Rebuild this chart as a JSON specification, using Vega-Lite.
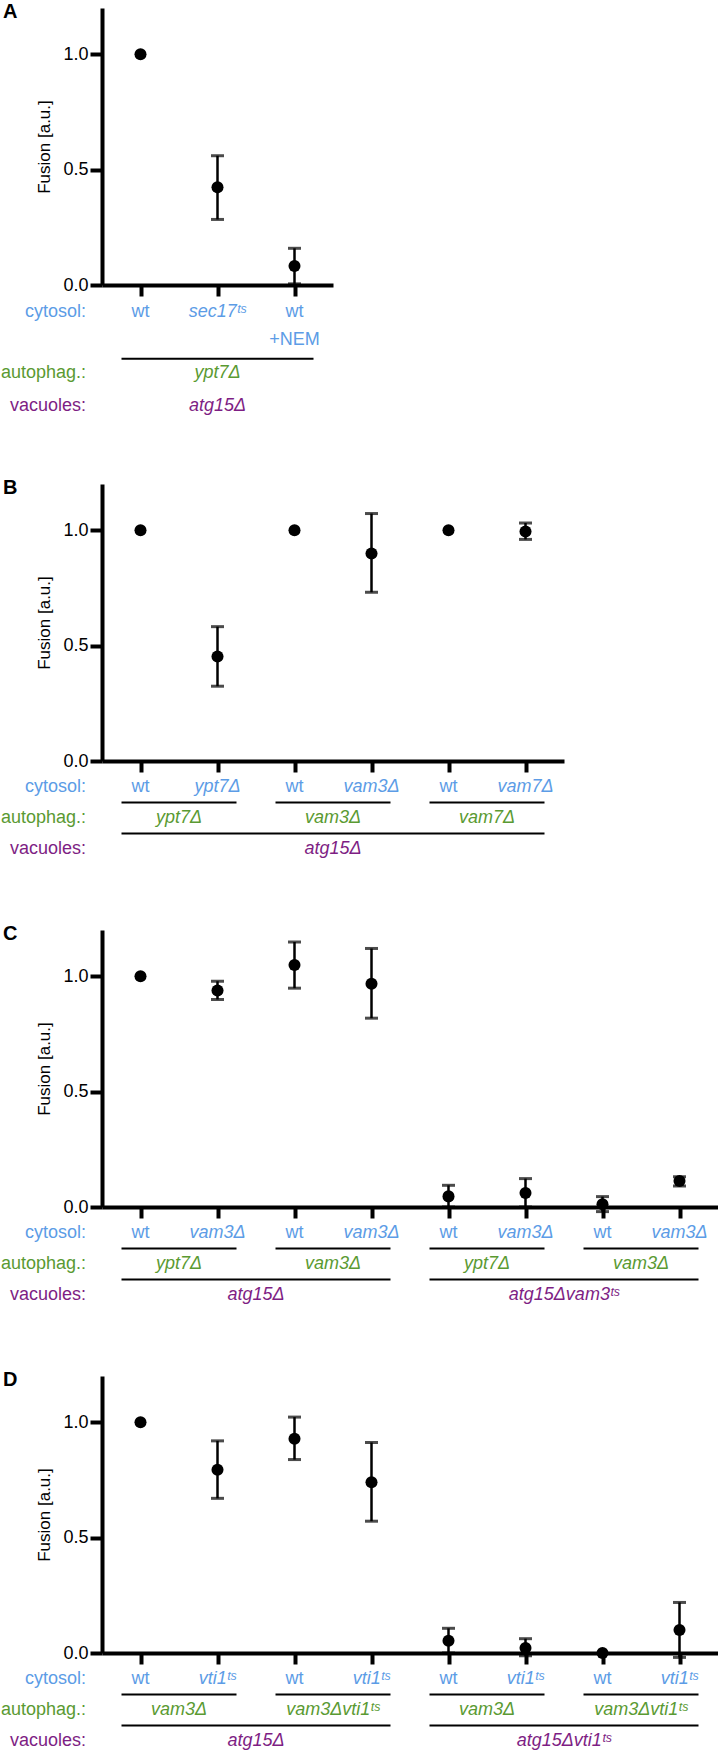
{
  "$schema": "https://vega.github.io/schema/vega-lite/v6.json",
  "padding": {"left": 0, "top": 2, "right": 0, "bottom": 0},
  "background": "white",
  "spacing": 63,
  "config": {
    "view": {"stroke": null},
    "axis": {"domainColor": "black", "domainWidth": 4, "tickColor": "black", "tickWidth": 4, "grid": false,
      "labelFont": "Liberation Sans", "labelFontSize": 18, "labelColor": "black", "labelPadding": 2,
      "titleFont": "Liberation Sans", "titleFontSize": 17, "titleFontWeight": "normal", "titleColor": "black", "titlePadding": 9},
    "text": {"font": "Liberation Sans", "fontSize": 18}
  },
  "datasets": {
    "pts": [
      {"p": "A", "pos": 1, "mean": 1.0, "lo": null, "hi": null},
      {"p": "A", "pos": 2, "mean": 0.423, "lo": 0.284, "hi": 0.56},
      {"p": "A", "pos": 3, "mean": 0.082, "lo": 0.005, "hi": 0.159},
      {"p": "B", "pos": 1, "mean": 1.0, "lo": null, "hi": null},
      {"p": "B", "pos": 2, "mean": 0.453, "lo": 0.324, "hi": 0.582},
      {"p": "B", "pos": 3, "mean": 1.0, "lo": null, "hi": null},
      {"p": "B", "pos": 4, "mean": 0.899, "lo": 0.731, "hi": 1.072},
      {"p": "B", "pos": 5, "mean": 1.0, "lo": null, "hi": null},
      {"p": "B", "pos": 6, "mean": 0.994, "lo": 0.96, "hi": 1.031},
      {"p": "C", "pos": 1, "mean": 1.0, "lo": null, "hi": null},
      {"p": "C", "pos": 2, "mean": 0.938, "lo": 0.899, "hi": 0.978},
      {"p": "C", "pos": 3, "mean": 1.048, "lo": 0.948, "hi": 1.148},
      {"p": "C", "pos": 4, "mean": 0.967, "lo": 0.818, "hi": 1.12},
      {"p": "C", "pos": 5, "mean": 0.046, "lo": 0.0, "hi": 0.094},
      {"p": "C", "pos": 6, "mean": 0.061, "lo": 0.0, "hi": 0.123},
      {"p": "C", "pos": 7, "mean": 0.012, "lo": -0.02, "hi": 0.045},
      {"p": "C", "pos": 8, "mean": 0.113, "lo": 0.091, "hi": 0.131},
      {"p": "D", "pos": 1, "mean": 1.0, "lo": null, "hi": null},
      {"p": "D", "pos": 2, "mean": 0.794, "lo": 0.67, "hi": 0.919},
      {"p": "D", "pos": 3, "mean": 0.928, "lo": 0.838, "hi": 1.022},
      {"p": "D", "pos": 4, "mean": 0.74, "lo": 0.571, "hi": 0.912},
      {"p": "D", "pos": 5, "mean": 0.053, "lo": 0.0, "hi": 0.107},
      {"p": "D", "pos": 6, "mean": 0.022, "lo": -0.012, "hi": 0.062},
      {"p": "D", "pos": 7, "mean": 0.0, "lo": null, "hi": null},
      {"p": "D", "pos": 8, "mean": 0.1, "lo": -0.019, "hi": 0.219}
    ],
    "labs": [
      {"p": "A", "row": "cytosol", "pos": 1, "text": "wt"},
      {"p": "A", "row": "cytosol", "pos": 2, "text": "sec17ᵗˢ"},
      {"p": "A", "row": "cytosol", "pos": 3, "text": "wt"},
      {"p": "A", "row": "nem", "pos": 3, "text": "+NEM"},
      {"p": "A", "row": "autophag", "pos": 2, "text": "ypt7Δ"},
      {"p": "A", "row": "vacuoles", "pos": 2, "text": "atg15Δ"},
      {"p": "B", "row": "cytosol", "pos": 1, "text": "wt"},
      {"p": "B", "row": "cytosol", "pos": 2, "text": "ypt7Δ"},
      {"p": "B", "row": "cytosol", "pos": 3, "text": "wt"},
      {"p": "B", "row": "cytosol", "pos": 4, "text": "vam3Δ"},
      {"p": "B", "row": "cytosol", "pos": 5, "text": "wt"},
      {"p": "B", "row": "cytosol", "pos": 6, "text": "vam7Δ"},
      {"p": "B", "row": "autophag", "pos": 1.5, "text": "ypt7Δ"},
      {"p": "B", "row": "autophag", "pos": 3.5, "text": "vam3Δ"},
      {"p": "B", "row": "autophag", "pos": 5.5, "text": "vam7Δ"},
      {"p": "B", "row": "vacuoles", "pos": 3.5, "text": "atg15Δ"},
      {"p": "C", "row": "cytosol", "pos": 1, "text": "wt"},
      {"p": "C", "row": "cytosol", "pos": 2, "text": "vam3Δ"},
      {"p": "C", "row": "cytosol", "pos": 3, "text": "wt"},
      {"p": "C", "row": "cytosol", "pos": 4, "text": "vam3Δ"},
      {"p": "C", "row": "cytosol", "pos": 5, "text": "wt"},
      {"p": "C", "row": "cytosol", "pos": 6, "text": "vam3Δ"},
      {"p": "C", "row": "cytosol", "pos": 7, "text": "wt"},
      {"p": "C", "row": "cytosol", "pos": 8, "text": "vam3Δ"},
      {"p": "C", "row": "autophag", "pos": 1.5, "text": "ypt7Δ"},
      {"p": "C", "row": "autophag", "pos": 3.5, "text": "vam3Δ"},
      {"p": "C", "row": "autophag", "pos": 5.5, "text": "ypt7Δ"},
      {"p": "C", "row": "autophag", "pos": 7.5, "text": "vam3Δ"},
      {"p": "C", "row": "vacuoles", "pos": 2.5, "text": "atg15Δ"},
      {"p": "C", "row": "vacuoles", "pos": 6.5, "text": "atg15Δvam3ᵗˢ"},
      {"p": "D", "row": "cytosol", "pos": 1, "text": "wt"},
      {"p": "D", "row": "cytosol", "pos": 2, "text": "vti1ᵗˢ"},
      {"p": "D", "row": "cytosol", "pos": 3, "text": "wt"},
      {"p": "D", "row": "cytosol", "pos": 4, "text": "vti1ᵗˢ"},
      {"p": "D", "row": "cytosol", "pos": 5, "text": "wt"},
      {"p": "D", "row": "cytosol", "pos": 6, "text": "vti1ᵗˢ"},
      {"p": "D", "row": "cytosol", "pos": 7, "text": "wt"},
      {"p": "D", "row": "cytosol", "pos": 8, "text": "vti1ᵗˢ"},
      {"p": "D", "row": "autophag", "pos": 1.5, "text": "vam3Δ"},
      {"p": "D", "row": "autophag", "pos": 3.5, "text": "vam3Δvti1ᵗˢ"},
      {"p": "D", "row": "autophag", "pos": 5.5, "text": "vam3Δ"},
      {"p": "D", "row": "autophag", "pos": 7.5, "text": "vam3Δvti1ᵗˢ"},
      {"p": "D", "row": "vacuoles", "pos": 2.5, "text": "atg15Δ"},
      {"p": "D", "row": "vacuoles", "pos": 6.5, "text": "atg15Δvti1ᵗˢ"}
    ],
    "spans": [
      {"p": "A", "row": "line1", "from": 1, "to": 3},
      {"p": "B", "row": "line1", "from": 1, "to": 2},
      {"p": "B", "row": "line1", "from": 3, "to": 4},
      {"p": "B", "row": "line1", "from": 5, "to": 6},
      {"p": "B", "row": "line2", "from": 1, "to": 6},
      {"p": "C", "row": "line1", "from": 1, "to": 2},
      {"p": "C", "row": "line1", "from": 3, "to": 4},
      {"p": "C", "row": "line1", "from": 5, "to": 6},
      {"p": "C", "row": "line1", "from": 7, "to": 8},
      {"p": "C", "row": "line2", "from": 1, "to": 4},
      {"p": "C", "row": "line2", "from": 5, "to": 8},
      {"p": "D", "row": "line1", "from": 1, "to": 2},
      {"p": "D", "row": "line1", "from": 3, "to": 4},
      {"p": "D", "row": "line1", "from": 5, "to": 6},
      {"p": "D", "row": "line1", "from": 7, "to": 8},
      {"p": "D", "row": "line2", "from": 1, "to": 4},
      {"p": "D", "row": "line2", "from": 5, "to": 8}
    ],
    "heads": [
      {"row": "cytosol", "text": "cytosol:"},
      {"row": "autophag", "text": "autophag.:"},
      {"row": "vacuoles", "text": "vacuoles:"}
    ]
  },
  "vconcat": [
    {
      "width": 231, "height": 277,
      "resolve": {"scale": {"y": "independent"}, "axis": {"y": "independent"}},
      "layer": [
        {"data": {"name": "pts"}, "transform": [{"filter": "datum.p == 'A' && datum.hi != null"}],
         "mark": {"type": "rule", "strokeWidth": 2.5, "color": "black"},
         "encoding": {"x": {"field": "pos", "type": "quantitative", "scale": {"domain": [0.5, 3.5], "nice": false, "zero": false}, "axis": {"values": [1, 2, 3], "labels": false, "title": null, "tickSize": 11}},
           "y": {"field": "lo", "type": "quantitative", "scale": {"domain": [0, 1.2], "nice": false, "zero": false}, "axis": null}, "y2": {"field": "hi"}}},
        {"data": {"name": "pts"}, "transform": [{"filter": "datum.p == 'A' && datum.hi != null"}],
         "mark": {"type": "tick", "orient": "horizontal", "size": 13, "thickness": 3, "color": "black"},
         "encoding": {"x": {"field": "pos", "type": "quantitative", "scale": {"domain": [0.5, 3.5], "nice": false, "zero": false}, "axis": {"values": [1, 2, 3], "labels": false, "title": null, "tickSize": 11}},
           "y": {"field": "hi", "type": "quantitative", "scale": {"domain": [0, 1.2], "nice": false, "zero": false}, "axis": null}}},
        {"data": {"name": "pts"}, "transform": [{"filter": "datum.p == 'A' && datum.hi != null"}],
         "mark": {"type": "tick", "orient": "horizontal", "size": 13, "thickness": 3, "color": "black"},
         "encoding": {"x": {"field": "pos", "type": "quantitative", "scale": {"domain": [0.5, 3.5], "nice": false, "zero": false}, "axis": {"values": [1, 2, 3], "labels": false, "title": null, "tickSize": 11}},
           "y": {"field": "lo", "type": "quantitative", "scale": {"domain": [0, 1.2], "nice": false, "zero": false}, "axis": null}}},
        {"data": {"name": "pts"}, "transform": [{"filter": "datum.p == 'A'"}],
         "mark": {"type": "circle", "size": 145, "opacity": 1, "color": "black"},
         "encoding": {"x": {"field": "pos", "type": "quantitative", "scale": {"domain": [0.5, 3.5], "nice": false, "zero": false}, "axis": {"values": [1, 2, 3], "labels": false, "title": null, "tickSize": 11}},
           "y": {"field": "mean", "type": "quantitative", "scale": {"domain": [0, 1.2], "nice": false, "zero": false}, "axis": {"orient": "left", "values": [0, 0.5, 1], "format": ".1f", "title": "Fusion [a.u.]", "tickSize": 12}}}},
        {"data": {"values": [{"letter": "A"}]},
         "mark": {"type": "text", "dx": -99, "dy": -6, "align": "left", "baseline": "top", "fontWeight": "bold", "fontSize": 20},
         "encoding": {"x": {"datum": 0.5, "type": "quantitative", "scale": {"domain": [0.5, 3.5], "nice": false, "zero": false}, "axis": {"values": [1, 2, 3], "labels": false, "title": null, "tickSize": 11}},
           "y": {"datum": 1.2, "type": "quantitative", "scale": {"domain": [0, 1.2], "nice": false, "zero": false}, "axis": null},
           "text": {"field": "letter"}}},
        {"data": {"name": "spans"}, "transform": [{"filter": "datum.p == 'A'"}],
         "mark": {"type": "rule", "strokeWidth": 2, "color": "black", "xOffset": -19, "x2Offset": 19},
         "encoding": {"x": {"field": "from", "type": "quantitative", "scale": {"domain": [0.5, 3.5], "nice": false, "zero": false}, "axis": {"values": [1, 2, 3], "labels": false, "title": null, "tickSize": 11}},
           "x2": {"field": "to"},
           "y": {"field": "row", "type": "ordinal", "scale": {"type": "point", "padding": 0, "domain": ["cytosol", "a1", "a2", "a3", "a4", "a5", "nem", "b1", "b2", "b3", "line1", "c1", "c2", "autophag", "d1", "d2", "d3", "d4", "d5", "d6", "vacuoles"], "range": [303.7, 397.7]}, "axis": null}}},
        {"data": {"name": "labs"}, "transform": [{"filter": "datum.p == 'A' && (datum.text == 'wt' || datum.text == '+NEM')"}],
         "mark": {"type": "text", "baseline": "middle"},
         "encoding": {"x": {"field": "pos", "type": "quantitative", "scale": {"domain": [0.5, 3.5], "nice": false, "zero": false}, "axis": {"values": [1, 2, 3], "labels": false, "title": null, "tickSize": 11}},
           "y": {"field": "row", "type": "ordinal", "scale": {"type": "point", "padding": 0, "domain": ["cytosol", "a1", "a2", "a3", "a4", "a5", "nem", "b1", "b2", "b3", "line1", "c1", "c2", "autophag", "d1", "d2", "d3", "d4", "d5", "d6", "vacuoles"], "range": [303.7, 397.7]}, "axis": null},
           "text": {"field": "text"},
           "color": {"field": "row", "type": "nominal", "scale": {"domain": ["cytosol", "nem", "autophag", "vacuoles"], "range": ["#5C9CE6", "#5C9CE6", "#5A9A32", "#7E1E84"]}, "legend": null}}},
        {"data": {"name": "labs"}, "transform": [{"filter": "datum.p == 'A' && datum.text != 'wt' && datum.text != '+NEM'"}],
         "mark": {"type": "text", "baseline": "middle", "fontStyle": "italic"},
         "encoding": {"x": {"field": "pos", "type": "quantitative", "scale": {"domain": [0.5, 3.5], "nice": false, "zero": false}, "axis": {"values": [1, 2, 3], "labels": false, "title": null, "tickSize": 11}},
           "y": {"field": "row", "type": "ordinal", "scale": {"type": "point", "padding": 0, "domain": ["cytosol", "a1", "a2", "a3", "a4", "a5", "nem", "b1", "b2", "b3", "line1", "c1", "c2", "autophag", "d1", "d2", "d3", "d4", "d5", "d6", "vacuoles"], "range": [303.7, 397.7]}, "axis": null},
           "text": {"field": "text"},
           "color": {"field": "row", "type": "nominal", "scale": {"domain": ["cytosol", "nem", "autophag", "vacuoles"], "range": ["#5C9CE6", "#5C9CE6", "#5A9A32", "#7E1E84"]}, "legend": null}}},
        {"data": {"name": "heads"},
         "mark": {"type": "text", "baseline": "middle", "align": "right", "dx": -16},
         "encoding": {"x": {"datum": 0.5, "type": "quantitative", "scale": {"domain": [0.5, 3.5], "nice": false, "zero": false}, "axis": {"values": [1, 2, 3], "labels": false, "title": null, "tickSize": 11}},
           "y": {"field": "row", "type": "ordinal", "scale": {"type": "point", "padding": 0, "domain": ["cytosol", "a1", "a2", "a3", "a4", "a5", "nem", "b1", "b2", "b3", "line1", "c1", "c2", "autophag", "d1", "d2", "d3", "d4", "d5", "d6", "vacuoles"], "range": [303.7, 397.7]}, "axis": null},
           "text": {"field": "text"},
           "color": {"field": "row", "type": "nominal", "scale": {"domain": ["cytosol", "nem", "autophag", "vacuoles"], "range": ["#5C9CE6", "#5C9CE6", "#5A9A32", "#7E1E84"]}, "legend": null}}}
      ]
    },
    {
      "spacing": 66,
      "vconcat": [
    {
      "width": 462, "height": 277,
      "resolve": {"scale": {"y": "independent"}, "axis": {"y": "independent"}},
      "layer": [
        {"data": {"name": "pts"}, "transform": [{"filter": "datum.p == 'B' && datum.hi != null"}],
         "mark": {"type": "rule", "strokeWidth": 2.5, "color": "black"},
         "encoding": {"x": {"field": "pos", "type": "quantitative", "scale": {"domain": [0.5, 6.5], "nice": false, "zero": false}, "axis": {"values": [1, 2, 3, 4, 5, 6], "labels": false, "title": null, "tickSize": 11}},
           "y": {"field": "lo", "type": "quantitative", "scale": {"domain": [0, 1.2], "nice": false, "zero": false}, "axis": null}, "y2": {"field": "hi"}}},
        {"data": {"name": "pts"}, "transform": [{"filter": "datum.p == 'B' && datum.hi != null"}],
         "mark": {"type": "tick", "orient": "horizontal", "size": 13, "thickness": 3, "color": "black"},
         "encoding": {"x": {"field": "pos", "type": "quantitative", "scale": {"domain": [0.5, 6.5], "nice": false, "zero": false}, "axis": {"values": [1, 2, 3, 4, 5, 6], "labels": false, "title": null, "tickSize": 11}},
           "y": {"field": "hi", "type": "quantitative", "scale": {"domain": [0, 1.2], "nice": false, "zero": false}, "axis": null}}},
        {"data": {"name": "pts"}, "transform": [{"filter": "datum.p == 'B' && datum.hi != null"}],
         "mark": {"type": "tick", "orient": "horizontal", "size": 13, "thickness": 3, "color": "black"},
         "encoding": {"x": {"field": "pos", "type": "quantitative", "scale": {"domain": [0.5, 6.5], "nice": false, "zero": false}, "axis": {"values": [1, 2, 3, 4, 5, 6], "labels": false, "title": null, "tickSize": 11}},
           "y": {"field": "lo", "type": "quantitative", "scale": {"domain": [0, 1.2], "nice": false, "zero": false}, "axis": null}}},
        {"data": {"name": "pts"}, "transform": [{"filter": "datum.p == 'B'"}],
         "mark": {"type": "circle", "size": 145, "opacity": 1, "color": "black"},
         "encoding": {"x": {"field": "pos", "type": "quantitative", "scale": {"domain": [0.5, 6.5], "nice": false, "zero": false}, "axis": {"values": [1, 2, 3, 4, 5, 6], "labels": false, "title": null, "tickSize": 11}},
           "y": {"field": "mean", "type": "quantitative", "scale": {"domain": [0, 1.2], "nice": false, "zero": false}, "axis": {"orient": "left", "values": [0, 0.5, 1], "format": ".1f", "title": "Fusion [a.u.]", "tickSize": 12}}}},
        {"data": {"values": [{"letter": "B"}]},
         "mark": {"type": "text", "dx": -99, "dy": -6, "align": "left", "baseline": "top", "fontWeight": "bold", "fontSize": 20},
         "encoding": {"x": {"datum": 0.5, "type": "quantitative", "scale": {"domain": [0.5, 6.5], "nice": false, "zero": false}, "axis": {"values": [1, 2, 3, 4, 5, 6], "labels": false, "title": null, "tickSize": 11}},
           "y": {"datum": 1.2, "type": "quantitative", "scale": {"domain": [0, 1.2], "nice": false, "zero": false}, "axis": null},
           "text": {"field": "letter"}}},
        {"data": {"name": "spans"}, "transform": [{"filter": "datum.p == 'B'"}],
         "mark": {"type": "rule", "strokeWidth": 2, "color": "black", "xOffset": -19, "x2Offset": 19},
         "encoding": {"x": {"field": "from", "type": "quantitative", "scale": {"domain": [0.5, 6.5], "nice": false, "zero": false}, "axis": {"values": [1, 2, 3, 4, 5, 6], "labels": false, "title": null, "tickSize": 11}},
           "x2": {"field": "to"},
           "y": {"field": "row", "type": "ordinal", "scale": {"type": "point", "padding": 0, "domain": ["cytosol", "line1", "autophag", "line2", "vacuoles"], "range": [303, 365]}, "axis": null}}},
        {"data": {"name": "labs"}, "transform": [{"filter": "datum.p == 'B' && datum.text == 'wt'"}],
         "mark": {"type": "text", "baseline": "middle"},
         "encoding": {"x": {"field": "pos", "type": "quantitative", "scale": {"domain": [0.5, 6.5], "nice": false, "zero": false}, "axis": {"values": [1, 2, 3, 4, 5, 6], "labels": false, "title": null, "tickSize": 11}},
           "y": {"field": "row", "type": "ordinal", "scale": {"type": "point", "padding": 0, "domain": ["cytosol", "line1", "autophag", "line2", "vacuoles"], "range": [303, 365]}, "axis": null},
           "text": {"field": "text"},
           "color": {"field": "row", "type": "nominal", "scale": {"domain": ["cytosol", "nem", "autophag", "vacuoles"], "range": ["#5C9CE6", "#5C9CE6", "#5A9A32", "#7E1E84"]}, "legend": null}}},
        {"data": {"name": "labs"}, "transform": [{"filter": "datum.p == 'B' && datum.text != 'wt'"}],
         "mark": {"type": "text", "baseline": "middle", "fontStyle": "italic"},
         "encoding": {"x": {"field": "pos", "type": "quantitative", "scale": {"domain": [0.5, 6.5], "nice": false, "zero": false}, "axis": {"values": [1, 2, 3, 4, 5, 6], "labels": false, "title": null, "tickSize": 11}},
           "y": {"field": "row", "type": "ordinal", "scale": {"type": "point", "padding": 0, "domain": ["cytosol", "line1", "autophag", "line2", "vacuoles"], "range": [303, 365]}, "axis": null},
           "text": {"field": "text"},
           "color": {"field": "row", "type": "nominal", "scale": {"domain": ["cytosol", "nem", "autophag", "vacuoles"], "range": ["#5C9CE6", "#5C9CE6", "#5A9A32", "#7E1E84"]}, "legend": null}}},
        {"data": {"name": "heads"},
         "mark": {"type": "text", "baseline": "middle", "align": "right", "dx": -16},
         "encoding": {"x": {"datum": 0.5, "type": "quantitative", "scale": {"domain": [0.5, 6.5], "nice": false, "zero": false}, "axis": {"values": [1, 2, 3, 4, 5, 6], "labels": false, "title": null, "tickSize": 11}},
           "y": {"field": "row", "type": "ordinal", "scale": {"type": "point", "padding": 0, "domain": ["cytosol", "line1", "autophag", "line2", "vacuoles"], "range": [303, 365]}, "axis": null},
           "text": {"field": "text"},
           "color": {"field": "row", "type": "nominal", "scale": {"domain": ["cytosol", "nem", "autophag", "vacuoles"], "range": ["#5C9CE6", "#5C9CE6", "#5A9A32", "#7E1E84"]}, "legend": null}}}
      ]
    },
    {
      "width": 616, "height": 277,
      "resolve": {"scale": {"y": "independent"}, "axis": {"y": "independent"}},
      "layer": [
        {"data": {"name": "pts"}, "transform": [{"filter": "datum.p == 'C' && datum.hi != null"}],
         "mark": {"type": "rule", "strokeWidth": 2.5, "color": "black"},
         "encoding": {"x": {"field": "pos", "type": "quantitative", "scale": {"domain": [0.5, 8.5], "nice": false, "zero": false}, "axis": {"values": [1, 2, 3, 4, 5, 6, 7, 8], "labels": false, "title": null, "tickSize": 11}},
           "y": {"field": "lo", "type": "quantitative", "scale": {"domain": [0, 1.2], "nice": false, "zero": false}, "axis": null}, "y2": {"field": "hi"}}},
        {"data": {"name": "pts"}, "transform": [{"filter": "datum.p == 'C' && datum.hi != null"}],
         "mark": {"type": "tick", "orient": "horizontal", "size": 13, "thickness": 3, "color": "black"},
         "encoding": {"x": {"field": "pos", "type": "quantitative", "scale": {"domain": [0.5, 8.5], "nice": false, "zero": false}, "axis": {"values": [1, 2, 3, 4, 5, 6, 7, 8], "labels": false, "title": null, "tickSize": 11}},
           "y": {"field": "hi", "type": "quantitative", "scale": {"domain": [0, 1.2], "nice": false, "zero": false}, "axis": null}}},
        {"data": {"name": "pts"}, "transform": [{"filter": "datum.p == 'C' && datum.hi != null"}],
         "mark": {"type": "tick", "orient": "horizontal", "size": 13, "thickness": 3, "color": "black"},
         "encoding": {"x": {"field": "pos", "type": "quantitative", "scale": {"domain": [0.5, 8.5], "nice": false, "zero": false}, "axis": {"values": [1, 2, 3, 4, 5, 6, 7, 8], "labels": false, "title": null, "tickSize": 11}},
           "y": {"field": "lo", "type": "quantitative", "scale": {"domain": [0, 1.2], "nice": false, "zero": false}, "axis": null}}},
        {"data": {"name": "pts"}, "transform": [{"filter": "datum.p == 'C'"}],
         "mark": {"type": "circle", "size": 145, "opacity": 1, "color": "black"},
         "encoding": {"x": {"field": "pos", "type": "quantitative", "scale": {"domain": [0.5, 8.5], "nice": false, "zero": false}, "axis": {"values": [1, 2, 3, 4, 5, 6, 7, 8], "labels": false, "title": null, "tickSize": 11}},
           "y": {"field": "mean", "type": "quantitative", "scale": {"domain": [0, 1.2], "nice": false, "zero": false}, "axis": {"orient": "left", "values": [0, 0.5, 1], "format": ".1f", "title": "Fusion [a.u.]", "tickSize": 12}}}},
        {"data": {"values": [{"letter": "C"}]},
         "mark": {"type": "text", "dx": -99, "dy": -6, "align": "left", "baseline": "top", "fontWeight": "bold", "fontSize": 20},
         "encoding": {"x": {"datum": 0.5, "type": "quantitative", "scale": {"domain": [0.5, 8.5], "nice": false, "zero": false}, "axis": {"values": [1, 2, 3, 4, 5, 6, 7, 8], "labels": false, "title": null, "tickSize": 11}},
           "y": {"datum": 1.2, "type": "quantitative", "scale": {"domain": [0, 1.2], "nice": false, "zero": false}, "axis": null},
           "text": {"field": "letter"}}},
        {"data": {"name": "spans"}, "transform": [{"filter": "datum.p == 'C'"}],
         "mark": {"type": "rule", "strokeWidth": 2, "color": "black", "xOffset": -19, "x2Offset": 19},
         "encoding": {"x": {"field": "from", "type": "quantitative", "scale": {"domain": [0.5, 8.5], "nice": false, "zero": false}, "axis": {"values": [1, 2, 3, 4, 5, 6, 7, 8], "labels": false, "title": null, "tickSize": 11}},
           "x2": {"field": "to"},
           "y": {"field": "row", "type": "ordinal", "scale": {"type": "point", "padding": 0, "domain": ["cytosol", "line1", "autophag", "line2", "vacuoles"], "range": [303, 365]}, "axis": null}}},
        {"data": {"name": "labs"}, "transform": [{"filter": "datum.p == 'C' && datum.text == 'wt'"}],
         "mark": {"type": "text", "baseline": "middle"},
         "encoding": {"x": {"field": "pos", "type": "quantitative", "scale": {"domain": [0.5, 8.5], "nice": false, "zero": false}, "axis": {"values": [1, 2, 3, 4, 5, 6, 7, 8], "labels": false, "title": null, "tickSize": 11}},
           "y": {"field": "row", "type": "ordinal", "scale": {"type": "point", "padding": 0, "domain": ["cytosol", "line1", "autophag", "line2", "vacuoles"], "range": [303, 365]}, "axis": null},
           "text": {"field": "text"},
           "color": {"field": "row", "type": "nominal", "scale": {"domain": ["cytosol", "nem", "autophag", "vacuoles"], "range": ["#5C9CE6", "#5C9CE6", "#5A9A32", "#7E1E84"]}, "legend": null}}},
        {"data": {"name": "labs"}, "transform": [{"filter": "datum.p == 'C' && datum.text != 'wt'"}],
         "mark": {"type": "text", "baseline": "middle", "fontStyle": "italic"},
         "encoding": {"x": {"field": "pos", "type": "quantitative", "scale": {"domain": [0.5, 8.5], "nice": false, "zero": false}, "axis": {"values": [1, 2, 3, 4, 5, 6, 7, 8], "labels": false, "title": null, "tickSize": 11}},
           "y": {"field": "row", "type": "ordinal", "scale": {"type": "point", "padding": 0, "domain": ["cytosol", "line1", "autophag", "line2", "vacuoles"], "range": [303, 365]}, "axis": null},
           "text": {"field": "text"},
           "color": {"field": "row", "type": "nominal", "scale": {"domain": ["cytosol", "nem", "autophag", "vacuoles"], "range": ["#5C9CE6", "#5C9CE6", "#5A9A32", "#7E1E84"]}, "legend": null}}},
        {"data": {"name": "heads"},
         "mark": {"type": "text", "baseline": "middle", "align": "right", "dx": -16},
         "encoding": {"x": {"datum": 0.5, "type": "quantitative", "scale": {"domain": [0.5, 8.5], "nice": false, "zero": false}, "axis": {"values": [1, 2, 3, 4, 5, 6, 7, 8], "labels": false, "title": null, "tickSize": 11}},
           "y": {"field": "row", "type": "ordinal", "scale": {"type": "point", "padding": 0, "domain": ["cytosol", "line1", "autophag", "line2", "vacuoles"], "range": [303, 365]}, "axis": null},
           "text": {"field": "text"},
           "color": {"field": "row", "type": "nominal", "scale": {"domain": ["cytosol", "nem", "autophag", "vacuoles"], "range": ["#5C9CE6", "#5C9CE6", "#5A9A32", "#7E1E84"]}, "legend": null}}}
      ]
    },
    {
      "width": 616, "height": 277,
      "resolve": {"scale": {"y": "independent"}, "axis": {"y": "independent"}},
      "layer": [
        {"data": {"name": "pts"}, "transform": [{"filter": "datum.p == 'D' && datum.hi != null"}],
         "mark": {"type": "rule", "strokeWidth": 2.5, "color": "black"},
         "encoding": {"x": {"field": "pos", "type": "quantitative", "scale": {"domain": [0.5, 8.5], "nice": false, "zero": false}, "axis": {"values": [1, 2, 3, 4, 5, 6, 7, 8], "labels": false, "title": null, "tickSize": 11}},
           "y": {"field": "lo", "type": "quantitative", "scale": {"domain": [0, 1.2], "nice": false, "zero": false}, "axis": null}, "y2": {"field": "hi"}}},
        {"data": {"name": "pts"}, "transform": [{"filter": "datum.p == 'D' && datum.hi != null"}],
         "mark": {"type": "tick", "orient": "horizontal", "size": 13, "thickness": 3, "color": "black"},
         "encoding": {"x": {"field": "pos", "type": "quantitative", "scale": {"domain": [0.5, 8.5], "nice": false, "zero": false}, "axis": {"values": [1, 2, 3, 4, 5, 6, 7, 8], "labels": false, "title": null, "tickSize": 11}},
           "y": {"field": "hi", "type": "quantitative", "scale": {"domain": [0, 1.2], "nice": false, "zero": false}, "axis": null}}},
        {"data": {"name": "pts"}, "transform": [{"filter": "datum.p == 'D' && datum.hi != null"}],
         "mark": {"type": "tick", "orient": "horizontal", "size": 13, "thickness": 3, "color": "black"},
         "encoding": {"x": {"field": "pos", "type": "quantitative", "scale": {"domain": [0.5, 8.5], "nice": false, "zero": false}, "axis": {"values": [1, 2, 3, 4, 5, 6, 7, 8], "labels": false, "title": null, "tickSize": 11}},
           "y": {"field": "lo", "type": "quantitative", "scale": {"domain": [0, 1.2], "nice": false, "zero": false}, "axis": null}}},
        {"data": {"name": "pts"}, "transform": [{"filter": "datum.p == 'D'"}],
         "mark": {"type": "circle", "size": 145, "opacity": 1, "color": "black"},
         "encoding": {"x": {"field": "pos", "type": "quantitative", "scale": {"domain": [0.5, 8.5], "nice": false, "zero": false}, "axis": {"values": [1, 2, 3, 4, 5, 6, 7, 8], "labels": false, "title": null, "tickSize": 11}},
           "y": {"field": "mean", "type": "quantitative", "scale": {"domain": [0, 1.2], "nice": false, "zero": false}, "axis": {"orient": "left", "values": [0, 0.5, 1], "format": ".1f", "title": "Fusion [a.u.]", "tickSize": 12}}}},
        {"data": {"values": [{"letter": "D"}]},
         "mark": {"type": "text", "dx": -99, "dy": -6, "align": "left", "baseline": "top", "fontWeight": "bold", "fontSize": 20},
         "encoding": {"x": {"datum": 0.5, "type": "quantitative", "scale": {"domain": [0.5, 8.5], "nice": false, "zero": false}, "axis": {"values": [1, 2, 3, 4, 5, 6, 7, 8], "labels": false, "title": null, "tickSize": 11}},
           "y": {"datum": 1.2, "type": "quantitative", "scale": {"domain": [0, 1.2], "nice": false, "zero": false}, "axis": null},
           "text": {"field": "letter"}}},
        {"data": {"name": "spans"}, "transform": [{"filter": "datum.p == 'D'"}],
         "mark": {"type": "rule", "strokeWidth": 2, "color": "black", "xOffset": -19, "x2Offset": 19},
         "encoding": {"x": {"field": "from", "type": "quantitative", "scale": {"domain": [0.5, 8.5], "nice": false, "zero": false}, "axis": {"values": [1, 2, 3, 4, 5, 6, 7, 8], "labels": false, "title": null, "tickSize": 11}},
           "x2": {"field": "to"},
           "y": {"field": "row", "type": "ordinal", "scale": {"type": "point", "padding": 0, "domain": ["cytosol", "line1", "autophag", "line2", "vacuoles"], "range": [303, 365]}, "axis": null}}},
        {"data": {"name": "labs"}, "transform": [{"filter": "datum.p == 'D' && datum.text == 'wt'"}],
         "mark": {"type": "text", "baseline": "middle"},
         "encoding": {"x": {"field": "pos", "type": "quantitative", "scale": {"domain": [0.5, 8.5], "nice": false, "zero": false}, "axis": {"values": [1, 2, 3, 4, 5, 6, 7, 8], "labels": false, "title": null, "tickSize": 11}},
           "y": {"field": "row", "type": "ordinal", "scale": {"type": "point", "padding": 0, "domain": ["cytosol", "line1", "autophag", "line2", "vacuoles"], "range": [303, 365]}, "axis": null},
           "text": {"field": "text"},
           "color": {"field": "row", "type": "nominal", "scale": {"domain": ["cytosol", "nem", "autophag", "vacuoles"], "range": ["#5C9CE6", "#5C9CE6", "#5A9A32", "#7E1E84"]}, "legend": null}}},
        {"data": {"name": "labs"}, "transform": [{"filter": "datum.p == 'D' && datum.text != 'wt'"}],
         "mark": {"type": "text", "baseline": "middle", "fontStyle": "italic"},
         "encoding": {"x": {"field": "pos", "type": "quantitative", "scale": {"domain": [0.5, 8.5], "nice": false, "zero": false}, "axis": {"values": [1, 2, 3, 4, 5, 6, 7, 8], "labels": false, "title": null, "tickSize": 11}},
           "y": {"field": "row", "type": "ordinal", "scale": {"type": "point", "padding": 0, "domain": ["cytosol", "line1", "autophag", "line2", "vacuoles"], "range": [303, 365]}, "axis": null},
           "text": {"field": "text"},
           "color": {"field": "row", "type": "nominal", "scale": {"domain": ["cytosol", "nem", "autophag", "vacuoles"], "range": ["#5C9CE6", "#5C9CE6", "#5A9A32", "#7E1E84"]}, "legend": null}}},
        {"data": {"name": "heads"},
         "mark": {"type": "text", "baseline": "middle", "align": "right", "dx": -16},
         "encoding": {"x": {"datum": 0.5, "type": "quantitative", "scale": {"domain": [0.5, 8.5], "nice": false, "zero": false}, "axis": {"values": [1, 2, 3, 4, 5, 6, 7, 8], "labels": false, "title": null, "tickSize": 11}},
           "y": {"field": "row", "type": "ordinal", "scale": {"type": "point", "padding": 0, "domain": ["cytosol", "line1", "autophag", "line2", "vacuoles"], "range": [303, 365]}, "axis": null},
           "text": {"field": "text"},
           "color": {"field": "row", "type": "nominal", "scale": {"domain": ["cytosol", "nem", "autophag", "vacuoles"], "range": ["#5C9CE6", "#5C9CE6", "#5A9A32", "#7E1E84"]}, "legend": null}}}
      ]
    }
      ]
    }
  ]
}
